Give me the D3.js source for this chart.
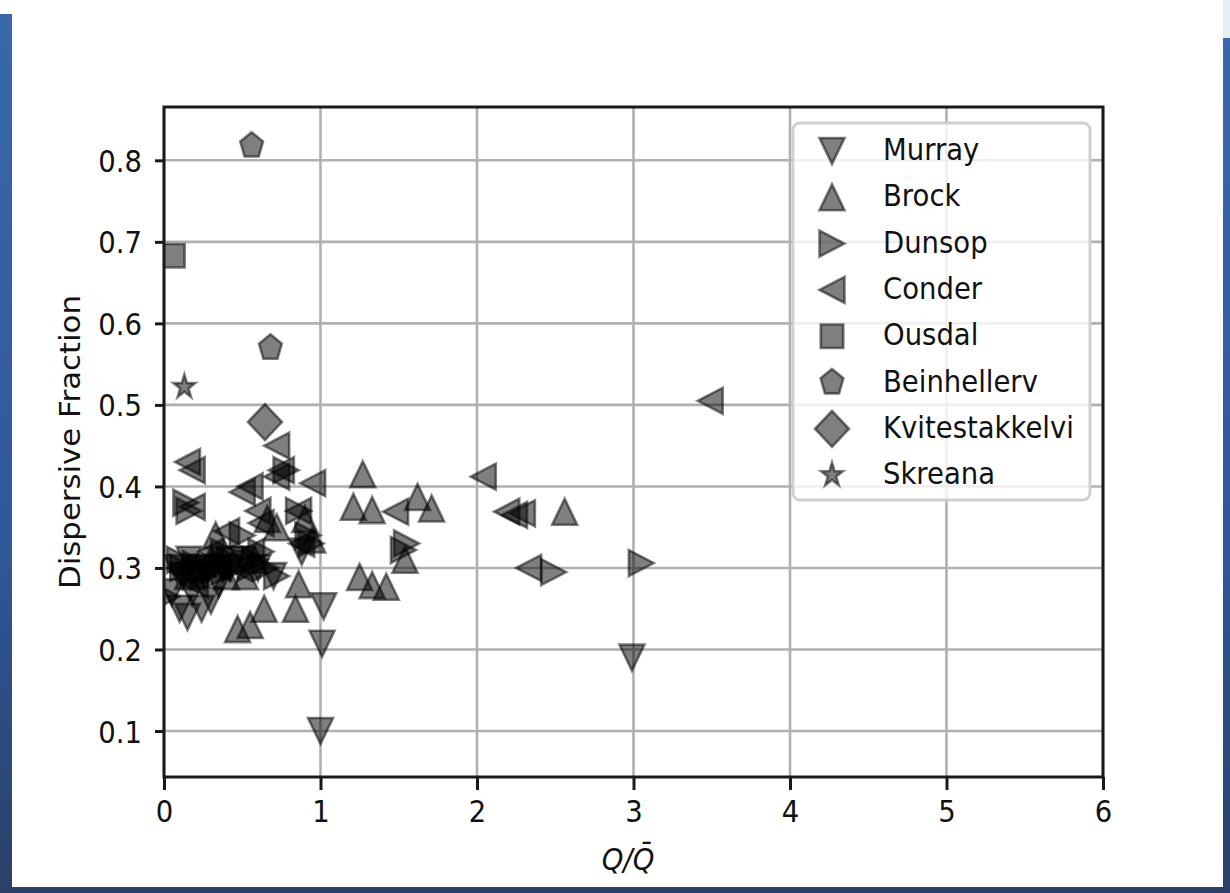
<!DOCTYPE html>
<html>
<head>
<meta charset="utf-8">
<script src="https://cdn.jsdelivr.net/npm/d3@7"></script>
<style>
  html, body { margin: 0; padding: 0; background: #2f5a98; }
  svg { display: block; }
  text { font-family: "DejaVu Sans", sans-serif; fill: #111; }
</style>
</head>
<body>
<div id="chart"></div>
<script>
// Data: [Q/Qbar, dispersive fraction]
var murray = [[0.05,0.27],[0.10,0.25],[0.15,0.24],[0.18,0.27],[0.24,0.25],[0.30,0.26],[0.12,0.29],
  [0.22,0.30],[0.35,0.28],[0.42,0.30],[0.50,0.31],[0.60,0.30],[0.70,0.29],[0.88,0.32],
  [1.00,0.10],[1.01,0.207],[1.02,0.253],[2.99,0.19],[0.28,0.30],[0.08,0.30],[0.16,0.31],
  [0.26,0.29],[0.38,0.30],[0.46,0.31]];
var brock = [[1.27,0.415],[1.21,0.375],[1.33,0.371],[1.62,0.387],[1.71,0.373],[1.25,0.289],
  [1.33,0.279],[1.42,0.277],[2.56,0.369],[1.54,0.31],[0.47,0.225],[0.55,0.23],[0.84,0.25],
  [0.86,0.28],[0.64,0.25],[0.66,0.36],[0.33,0.34],[0.30,0.31],[0.20,0.30],[0.90,0.36],
  [0.72,0.35],[0.58,0.31],[0.95,0.335],[0.40,0.29],[0.15,0.29],[0.36,0.31],[0.52,0.29]];
var dunsop = [[3.05,0.306],[2.49,0.295],[1.55,0.33],[1.53,0.322],[0.92,0.34],[0.94,0.33],
  [0.72,0.29],[0.62,0.32],[0.45,0.30],[0.33,0.29],[0.12,0.30],[0.14,0.38],[0.16,0.37],
  [0.02,0.265],[0.25,0.29],[0.55,0.30],[0.78,0.42],[0.38,0.32],[0.50,0.34],[0.86,0.37],
  [0.10,0.31],[0.20,0.305],[0.30,0.30],[0.42,0.31],[0.58,0.31],[0.65,0.30]];
var conder = [[3.49,0.505],[2.04,0.412],[2.19,0.369],[2.24,0.365],[2.29,0.367],[2.33,0.30],
  [1.48,0.369],[0.15,0.43],[0.18,0.42],[0.72,0.45],[0.72,0.412],[0.75,0.42],[0.95,0.404],
  [0.50,0.393],[0.60,0.37],[0.40,0.345],[0.18,0.375],[0.30,0.32],[0.10,0.30],[0.88,0.33],
  [0.62,0.355],[0.86,0.37],[0.55,0.40],[0.20,0.28],[0.12,0.295],[0.25,0.305],[0.35,0.30],
  [0.48,0.30],[0.56,0.32]];
var ousdal = [[0.06,0.683]];
var beinhellerv = [[0.56,0.818],[0.68,0.57]];
var kvitestakkelvi = [[0.645,0.479]];
var skreana = [[0.13,0.522]];

var seriesNames = ['Murray','Brock','Dunsop','Conder','Ousdal','Beinhellerv','Kvitestakkelvi','Skreana'];
var seriesData = [murray, brock, dunsop, conder, ousdal, beinhellerv, kvitestakkelvi, skreana];

var xTicks = [0, 1, 2, 3, 4, 5, 6];
var yTicks = [0.1, 0.2, 0.3, 0.4, 0.5, 0.6, 0.7, 0.8];
var xLabel = 'Q/Q\u0304',
    yLabel = 'Dispersive Fraction';

// Geometry
var width = 1230,
    height = 893,
    fontSize = 27.5,
    stretch = 1.12;   // picture is stretched a bit more vertically

var plot = {left: 164, right: 1103, top: 107, bottom: 777};

// Marker shapes (one per series, in order)
var markers = [
  {shape: 'down', w: 25, h: 26},
  {shape: 'up', w: 25, h: 26},
  {shape: 'right', w: 25, h: 26},
  {shape: 'left', w: 25, h: 26},
  {shape: 'square', w: 22.5, h: 23.5},
  {shape: 'pentagon', w: 12, h: 13.5},
  {shape: 'diamond', w: 34, h: 36},
  {shape: 'star', w: 11.5, h: 12.5}
];

function poly(pts) {
  return 'M' + pts.map(function(p) { return p[0].toFixed(2) + ',' + p[1].toFixed(2); }).join('L') + 'Z';
}

function markerPath(m) {
  var w = m.w, h = m.h, pts = [], i, a, r;
  if (m.shape == 'down') pts = [[0, h/2], [-w/2, -h/2], [w/2, -h/2]];
  if (m.shape == 'up') pts = [[0, -h/2], [-w/2, h/2], [w/2, h/2]];
  if (m.shape == 'right') pts = [[w/2, 0], [-w/2, -h/2], [-w/2, h/2]];
  if (m.shape == 'left') pts = [[-w/2, 0], [w/2, -h/2], [w/2, h/2]];
  if (m.shape == 'square') pts = [[-w/2, -h/2], [w/2, -h/2], [w/2, h/2], [-w/2, h/2]];
  if (m.shape == 'diamond') pts = [[0, -h/2], [w/2, 0], [0, h/2], [-w/2, 0]];
  if (m.shape == 'pentagon') {
    for (i = 0; i < 5; i++) {
      a = (-90 + 72 * i) * Math.PI / 180;
      pts.push([w * Math.cos(a), h * Math.sin(a)]);
    }
  }
  if (m.shape == 'star') {
    for (i = 0; i < 10; i++) {
      a = (-90 + 36 * i) * Math.PI / 180;
      r = i % 2 ? 0.381966 : 1;
      pts.push([r * w * Math.cos(a), r * h * Math.sin(a)]);
    }
  }
  return poly(pts);
}

// Scales
var x = d3.scaleLinear().domain([0, 6]).range([plot.left, plot.right]);
var y = d3.scaleLinear().domain([0.0436, 0.8654]).range([plot.bottom, plot.top]);

var svg = d3.select('#chart').append('svg')
    .attr('width', width)
    .attr('height', height);

// Blue frame behind the white figure
var defs = svg.append('defs');
var grad = defs.append('linearGradient')
    .attr('id', 'frame')
    .attr('x1', 0).attr('y1', 0).attr('x2', 0).attr('y2', 1);
grad.append('stop').attr('offset', '0%').attr('stop-color', '#3a68ad');
grad.append('stop').attr('offset', '60%').attr('stop-color', '#30589a');
grad.append('stop').attr('offset', '100%').attr('stop-color', '#2a4068');

defs.append('clipPath').attr('id', 'plotclip')
  .append('rect')
    .attr('x', plot.left).attr('y', plot.top)
    .attr('width', plot.right - plot.left)
    .attr('height', plot.bottom - plot.top);

svg.append('rect')
    .attr('width', width).attr('height', height)
    .attr('fill', 'url(#frame)');
svg.append('rect')
    .attr('x', 12).attr('y', 0)
    .attr('width', 1211).attr('height', 887)
    .attr('fill', '#fff');
svg.append('rect').attr('x', 0).attr('y', 0).attr('width', 12).attr('height', 14).attr('fill', '#fff');
svg.append('rect').attr('x', 1223).attr('y', 0).attr('width', 7).attr('height', 38).attr('fill', '#e8eef5');

// Grid
var grid = svg.append('g').attr('class', 'grid');
grid.selectAll('line.vx')
  .data(xTicks)
  .enter().append('line')
    .attr('class', 'vx')
    .attr('x1', function(d) { return x(d); })
    .attr('x2', function(d) { return x(d); })
    .attr('y1', plot.top)
    .attr('y2', plot.bottom);
grid.selectAll('line.hy')
  .data(yTicks)
  .enter().append('line')
    .attr('class', 'hy')
    .attr('x1', plot.left)
    .attr('x2', plot.right)
    .attr('y1', function(d) { return y(d); })
    .attr('y2', function(d) { return y(d); });
grid.selectAll('line')
    .attr('stroke', '#b0b0b0')
    .attr('stroke-width', 2.6);

// Points
var points = svg.append('g').attr('clip-path', 'url(#plotclip)');
seriesData.forEach(function(data, i) {
  points.selectAll('path.s' + i)
    .data(data)
    .enter().append('path')
      .attr('class', 's' + i)
      .attr('d', markerPath(markers[i]))
      .attr('transform', function(d) { return 'translate(' + x(d[0]) + ',' + y(d[1]) + ')'; })
      .attr('fill', '#000')
      .attr('fill-opacity', 0.5)
      .attr('stroke', '#000')
      .attr('stroke-opacity', 0.5)
      .attr('stroke-width', 2.6)
      .attr('stroke-linejoin', 'miter');
});

// Axes
var xAxis = svg.append('g')
    .attr('transform', 'translate(0,' + plot.bottom + ')')
    .call(d3.axisBottom(x).tickValues(xTicks).tickFormat(d3.format('d')).tickSize(13));
xAxis.select('.domain').remove();
xAxis.selectAll('.tick line').attr('stroke', '#1a1a1a').attr('stroke-width', 3);
xAxis.selectAll('.tick text')
    .attr('y', 0).attr('dy', null)
    .attr('fill', '#111')
    .attr('font-size', fontSize)
    .attr('font-family', 'DejaVu Sans')
    .attr('transform', 'translate(0,45) scale(1,' + stretch + ')');

var yAxis = svg.append('g')
    .attr('transform', 'translate(' + plot.left + ',0)')
    .call(d3.axisLeft(y).tickValues(yTicks).tickFormat(d3.format('.1f')).tickSize(9));
yAxis.select('.domain').remove();
yAxis.selectAll('.tick line').attr('stroke', '#1a1a1a').attr('stroke-width', 3);
yAxis.selectAll('.tick text')
    .attr('x', 0).attr('dy', null)
    .attr('fill', '#111')
    .attr('font-size', fontSize)
    .attr('font-family', 'DejaVu Sans')
    .attr('text-anchor', 'end')
    .attr('transform', 'translate(-22,11) scale(1,' + stretch + ')');

// Spines
svg.append('rect')
    .attr('x', plot.left).attr('y', plot.top)
    .attr('width', plot.right - plot.left)
    .attr('height', plot.bottom - plot.top)
    .attr('fill', 'none')
    .attr('stroke', '#1a1a1a')
    .attr('stroke-width', 3);

// Axis labels
svg.append('text')
    .attr('transform', 'translate(80,442) rotate(-90) scale(' + stretch + ',1)')
    .attr('text-anchor', 'middle')
    .attr('font-size', fontSize)
    .text(yLabel);

svg.append('text')
    .attr('transform', 'translate(628,870) scale(1,' + stretch + ')')
    .attr('text-anchor', 'middle')
    .attr('font-size', fontSize)
    .attr('font-style', 'italic')
    .text(xLabel);

// Legend
var legend = svg.append('g');
legend.append('rect')
    .attr('x', 793).attr('y', 123)
    .attr('width', 297).attr('height', 377)
    .attr('rx', 7)
    .attr('fill', '#fff')
    .attr('fill-opacity', 0.8)
    .attr('stroke', '#cfcfcf')
    .attr('stroke-width', 2.8);

var rows = legend.selectAll('g.row')
  .data(seriesNames)
  .enter().append('g')
    .attr('class', 'row')
    .attr('transform', function(d, i) { return 'translate(0,' + (151 + i * 46.3) + ')'; });

rows.append('path')
    .attr('d', function(d, i) { return markerPath(markers[i]); })
    .attr('transform', 'translate(832,0)')
    .attr('fill', '#000')
    .attr('fill-opacity', 0.5)
    .attr('stroke', '#000')
    .attr('stroke-opacity', 0.5)
    .attr('stroke-width', 2.6);

rows.append('text')
    .attr('transform', 'translate(883,9) scale(1,' + stretch + ')')
    .attr('font-size', fontSize)
    .text(function(d) { return d; });
</script>
</body>
</html>
